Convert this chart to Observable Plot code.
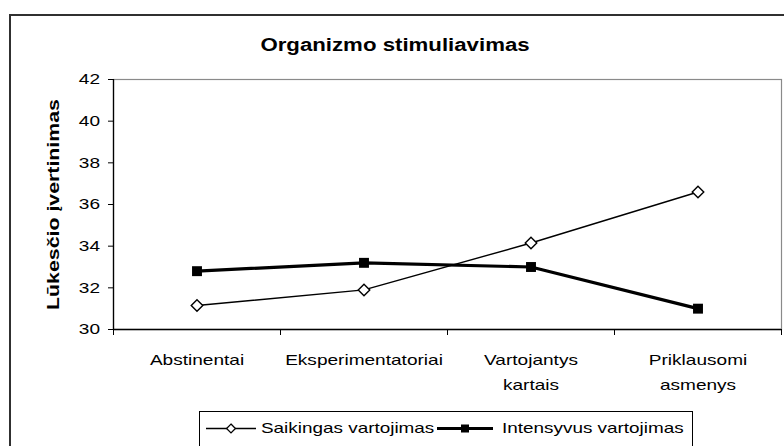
<!DOCTYPE html>
<html>
<head>
<meta charset="utf-8">
<script src="https://cdn.jsdelivr.net/npm/d3@7"></script>
<script src="https://cdn.jsdelivr.net/npm/@observablehq/plot@0.6"></script>
<style>
  html, body { margin: 0; padding: 0; background: #fff; }
  body { width: 784px; height: 446px; overflow: hidden; position: relative; font-family: "Liberation Sans", Arial, sans-serif; }
  #frame { position: absolute; left: 9px; top: 14px; width: 800px; height: 460px; border: 2px solid #303030; box-sizing: border-box; }
  #title { position: absolute; left: 0; width: 790px; top: 34px; text-align: center; font-weight: bold; font-size: 17.5px; line-height: 22px; }
  #title span { display: inline-block; transform: scaleX(1.27); }
  #chart { position: absolute; left: 0; top: 0; }
  #legend { position: absolute; left: 199px; top: 411px; width: 494px; height: 50px; border: 1px solid #000; box-sizing: border-box; }
  .lg-item { position: absolute; top: 0; height: 32px; }
  .lg-text { position: absolute; top: 7px; font-size: 15px; line-height: 18px; white-space: nowrap; transform: scaleX(1.26); transform-origin: left center; }
</style>
</head>
<body>
<div id="frame"></div>
<div id="title"><span></span></div>
<div id="chart"></div>
<div id="legend"></div>
<script>
// ---- data ----
const titleText = "Organizmo stimuliavimas";
const yLabel = "Lūkesčio įvertinimas";
const categories = ["Abstinentai", "Eksperimentatoriai", "Vartojantys\nkartais", "Priklausomi\nasmenys"];
const seriesNames = ["Saikingas vartojimas", "Intensyvus vartojimas"];
const saikingas = [31.15, 31.9, 34.15, 36.6];
const intensyvus = [32.8, 33.2, 33.0, 31.0];
const yTicks = [30, 32, 34, 36, 38, 40, 42];

// ---- build ----
document.querySelector("#title span").textContent = titleText;

const idx = categories.map((d, i) => i);
const bounds = [-0.5, ...idx.map(i => i + 0.5)];
const sRows = saikingas.map((v, i) => ({i, v}));
const iRows = intensyvus.map((v, i) => ({i, v}));

const chart = Plot.plot({
  width: 784,
  height: 400,
  marginLeft: 113,
  marginRight: 3,
  marginTop: 79,
  marginBottom: 71,
  style: {fontFamily: "'Liberation Sans', Arial, sans-serif", fontSize: "15px", color: "#000", background: "transparent"},
  x: {type: "linear", domain: [-0.5, categories.length - 0.5]},
  y: {domain: [30, 42]},
  marks: [
    Plot.frame({stroke: "#8a8a8a", strokeWidth: 1.2}),
    Plot.axisY({ticks: yTicks, tickSize: 5, tickPadding: 8.5, label: null, stroke: "#000"}),
    Plot.axisX({ticks: bounds, tickSize: 6, tickFormat: () => "", label: null, stroke: "#000"}),
    Plot.axisX({ticks: idx, tickSize: 0, tickPadding: 17.5, tickFormat: i => categories[i], label: null, lineHeight: 1.67}),
    Plot.ruleX([-0.5], {stroke: "#000", strokeWidth: 1.3}),
    Plot.ruleY([30], {stroke: "#000", strokeWidth: 1.3}),
    Plot.text([yLabel], {frameAnchor: "left", textAnchor: "middle", rotate: -90, dx: -60, fontWeight: "bold", fontSize: 16.8, text: d => d}),
    Plot.line(sRows, {x: "i", y: "v", stroke: "#000", strokeWidth: 1.4}),
    Plot.line(iRows, {x: "i", y: "v", stroke: "#000", strokeWidth: 3.2}),
    Plot.dot(sRows, {x: "i", y: "v", symbol: "diamond2", r: 5.2, fill: "#fff", stroke: "#000", strokeWidth: 1.4}),
    Plot.dot(iRows, {x: "i", y: "v", symbol: "square", r: 5.6, fill: "#000"})
  ]
});
document.getElementById("chart").appendChild(chart);

// stretch text horizontally (the reference glyphs are widened)
function stretch(root, k) {
  root.querySelectorAll("text").forEach(t => {
    const tsp = t.querySelectorAll("tspan");
    const els = tsp.length ? [...tsp] : [t];
    els.forEach(e => {
      const w = e.getComputedTextLength();
      if (w > 0) { e.setAttribute("textLength", w * k); e.setAttribute("lengthAdjust", "spacingAndGlyphs"); }
    });
  });
}
stretch(chart, 1.27);

// ---- legend ----
const legend = d3.select("#legend");
const layout = [
  {name: seriesNames[0], swLeft: 6, swW: 50, txtLeft: 61, kind: "diamond"},
  {name: seriesNames[1], swLeft: 237, swW: 56, txtLeft: 302, kind: "square"}
];
layout.forEach(L => {
  const sw = legend.append("svg").attr("class", "lg-item").style("left", L.swLeft + "px").attr("width", L.swW).attr("height", 32);
  const cy = 16.5, cx = L.swW / 2;
  sw.append("line").attr("x1", 0).attr("x2", L.swW).attr("y1", cy).attr("y2", cy)
    .attr("stroke", "#000").attr("stroke-width", L.kind === "square" ? 3.2 : 1.4);
  if (L.kind === "diamond") {
    sw.append("path").attr("d", d3.symbol(d3.symbolDiamond2, 50)()).attr("transform", `translate(${cx},${cy})`)
      .attr("fill", "#fff").attr("stroke", "#000").attr("stroke-width", 1.3);
  } else {
    sw.append("rect").attr("x", cx - 4).attr("y", cy - 4).attr("width", 8).attr("height", 8).attr("fill", "#000");
  }
  legend.append("div").attr("class", "lg-text").style("left", L.txtLeft + "px").text(L.name);
});
</script>
</body>
</html>
